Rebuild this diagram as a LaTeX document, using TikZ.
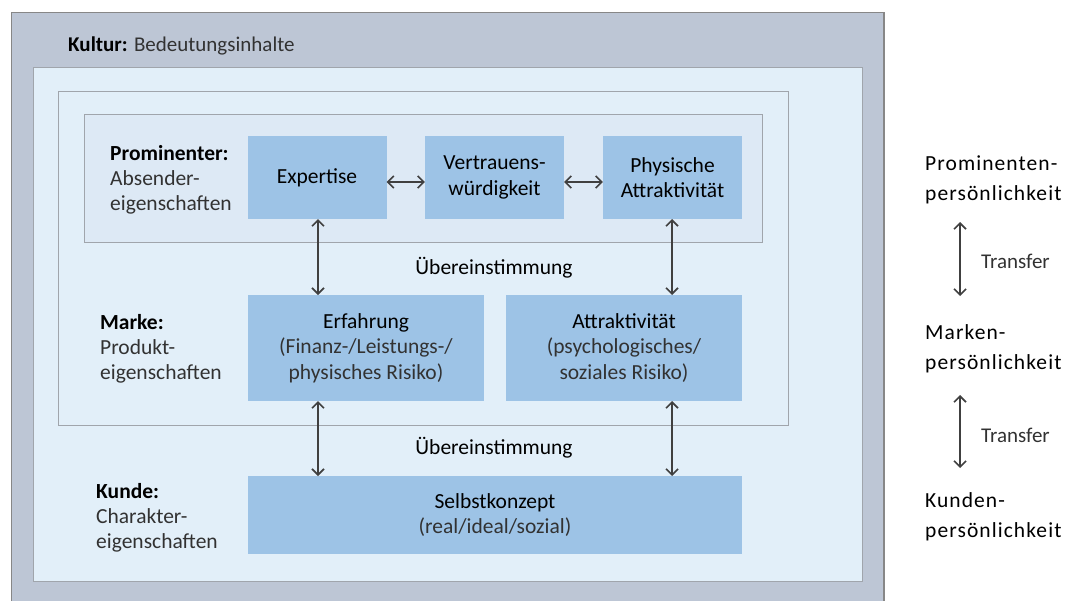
\documentclass[tikz,border=0pt]{standalone}
\usepackage{fontspec}
\setmainfont{Carlito}
\newfontfamily\spacedfont[LetterSpace=5]{Carlito}
\usetikzlibrary{arrows.meta}
\definecolor{outerfill}{RGB}{189,198,213}
\definecolor{outerdraw}{RGB}{135,135,135}
\definecolor{lightfill}{RGB}{226,239,249}
\definecolor{midfill}{RGB}{221,233,245}
\definecolor{framedraw}{RGB}{160,165,172}
\definecolor{bluefill}{RGB}{157,195,230}
\definecolor{arrowcol}{RGB}{64,64,64}
\definecolor{txtgray}{RGB}{50,50,50}
\tikzset{
  bluebox/.style={fill=bluefill, draw=none, inner sep=0pt, align=center,
    font=\fontsize{21.5}{25.5}\selectfont, text=black},
  lbl/.style={anchor=base west, inner sep=0pt, align=left,
    font=\fontsize{21.5}{25}\selectfont, text=txtgray},
  rlbl/.style={anchor=base west, inner sep=0pt, align=left,
    font=\spacedfont\fontsize{21.5}{30}\selectfont, text=black},
  conn/.style={draw=arrowcol, line width=1.6pt,
    {Straight Barb[length=6pt,width=12pt,line width=1.6pt]}-{Straight Barb[length=6pt,width=12pt,line width=1.6pt]}},
}
\begin{document}
\begin{tikzpicture}[x=1pt,y=-1pt]
\useasboundingbox (0,0) rectangle (1066,600);
% container frames
\draw[fill=outerfill, draw=outerdraw, line width=1.2pt] (11.5,12.5) rectangle (884,610);
\draw[fill=lightfill, draw=framedraw, line width=1pt] (33,67.5) rectangle (862,581);
\draw[fill=lightfill, draw=framedraw, line width=0.8pt] (58.5,91) rectangle (788,425);
\draw[fill=midfill, draw=framedraw, line width=0.8pt] (84.5,114.5) rectangle (762,242);
% title
\node[anchor=base west, inner sep=0pt, font=\fontsize{21}{24}\selectfont, text=txtgray] (kultur) at (68,51) {\textbf{\color{black}Kultur:} Bedeutungsinhalte};
% left labels (anchored at the baseline of their last line)
\node[lbl] (prom) at (110,210) {\textbf{\color{black}Prominenter:}\\Absender-\\eigenschaften};
\node[lbl] (marke) at (100,379) {\textbf{\color{black}Marke:}\\Produkt-\\eigenschaften};
\node[lbl] (kunde) at (96,548) {\textbf{\color{black}Kunde:}\\Charakter-\\eigenschaften};
% blue boxes
\node[bluebox, minimum width=139pt, minimum height=83pt] (exp) at (317,177.5) {Expertise};
\node[bluebox, minimum width=139pt, minimum height=83pt] (ver) at (494.5,177.5) {Vertrauens-\\würdigkeit};
\node[bluebox, minimum width=139pt, minimum height=83pt] (phy) at (672.5,177.5) {Physische\\Attraktivität};
\node[bluebox, minimum width=236pt, minimum height=106pt] (erf) at (366,348) {Erfahrung\\{\color{txtgray}(Finanz-/Leistungs-/}\\{\color{txtgray}physisches Risiko)}};
\node[bluebox, minimum width=236pt, minimum height=106pt] (att) at (624,348) {Attraktivität\\{\color{txtgray}(psychologisches/}\\{\color{txtgray}soziales Risiko)}};
\node[bluebox, minimum width=494pt, minimum height=78pt] (sel) at (495,515) {Selbstkonzept\\{\color{txtgray}(real/ideal/sozial)}};
% Übereinstimmung labels
\node[inner sep=0pt, font=\fontsize{21.5}{24}\selectfont] (ue1) at (494,268) {Übereinstimmung};
\node[inner sep=0pt, font=\fontsize{21.5}{24}\selectfont] (ue2) at (494,448) {Übereinstimmung};
% connectors
\coordinate (a1) at (318,219);
\coordinate (a2) at (318,295);
\coordinate (b1) at (672,219);
\coordinate (b2) at (672,295);
\coordinate (c1) at (318,401);
\coordinate (c2) at (318,476);
\coordinate (d1) at (672,401);
\coordinate (d2) at (672,476);
\draw[conn] (exp.east |- 0,182) -- (ver.west |- 0,182);
\draw[conn] (ver.east |- 0,182) -- (phy.west |- 0,182);
\draw[conn] (a1) -- (a2);
\draw[conn] (b1) -- (b2);
\draw[conn] (c1) -- (c2);
\draw[conn] (d1) -- (d2);
% right side (anchored at the baseline of their last line)
\node[rlbl] (rp) at (925,200) {Prominenten-\\persönlichkeit};
\node[rlbl] (rm) at (925,369) {Marken-\\persönlichkeit};
\node[rlbl] (rk) at (925,537) {Kunden-\\persönlichkeit};
\coordinate (t1a) at (960,222);
\coordinate (t1b) at (960,296);
\coordinate (t2a) at (960,395);
\coordinate (t2b) at (960,468);
\draw[conn] (t1a) -- (t1b);
\draw[conn] (t2a) -- (t2b);
\node[anchor=base west, inner sep=0pt, font=\fontsize{21}{24}\selectfont, text=txtgray] (tr1) at (981,268) {Transfer};
\node[anchor=base west, inner sep=0pt, font=\fontsize{21}{24}\selectfont, text=txtgray] (tr2) at (981,442) {Transfer};
\end{tikzpicture}
\end{document}
